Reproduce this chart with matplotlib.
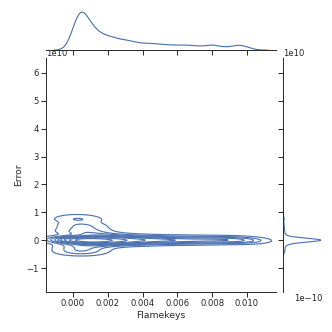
import matplotlib
matplotlib.use("Agg")
import matplotlib.pyplot as plt
import numpy as np
import seaborn as sns

# Flamekeys in milliseconds, Error in units of 1e10
flamekeys_ms = [
    # main cluster
    0.02, 0.04, 0.06, 0.08, 0.10, 0.12, 0.14, 0.16, 0.18, 0.20,
    0.22, 0.24, 0.26, 0.28, 0.30, 0.31, 0.33, 0.35, 0.37, 0.39,
    0.40, 0.42, 0.44, 0.46, 0.47, 0.49, 0.50, 0.52, 0.53, 0.55,
    0.56, 0.57, 0.58, 0.59, 0.61, 0.63, 0.66, 0.68, 0.71, 0.73,
    0.76, 0.78, 0.81, 0.84, 0.87, 0.90, 0.93, 0.96, 0.99, 1.02,
    1.06, 1.10, 1.14, 1.18, 1.22, 1.26, 1.30, 1.34, 1.38, 1.42,
    1.46, 1.49,
    # tail
    1.55, 1.61, 1.67, 1.73, 1.79, 1.85, 1.91, 1.97, 2.03, 2.09, 2.15, 2.21, 2.27, 2.33,
    2.39, 2.45, 2.50,
    2.60, 2.70, 2.80, 2.90, 3.00, 3.10, 3.20, 3.28, 3.36, 3.44, 2.95,
    3.55, 3.68, 3.80, 3.93, 4.05, 4.18, 4.30, 4.43, 4.55, 4.68, 4.80, 4.93,
    5.08, 5.25, 5.42, 5.58, 5.75, 5.92, 6.08, 6.25, 6.42, 6.58, 6.75, 6.92,
    7.10, 7.35, 7.60, 7.85, 7.95, 8.05, 8.15, 8.40, 8.70, 9.00, 9.30, 9.45, 9.55, 9.65,
    9.85, 10.10,
]
error_e10 = [
    0.00, -0.02, 0.30, 0.01, -0.40, 0.00, 0.72, -0.01, -0.25, 0.02,
    0.78, 0.00, -0.50, 0.01, 0.45, -0.02, 1.16, 0.88, -0.30, 0.03,
    0.60, 0.00, -0.45, -0.01, 0.75, 0.02, -0.15, 0.00, 0.35, -0.02,
    -0.35, 0.01, 0.55, 0.00, -0.20, -0.01, 0.50, 0.02, -0.40, 0.00,
    0.25, -0.01, -0.30, 0.01, 0.40, 0.00, -0.20, 0.02, 0.30, -0.01,
    -0.10, 0.00, 0.20, 0.01, -0.15, -0.01, 0.15, 0.00, -0.03, 0.02,
    -0.12, 0.00,
    0.05, -0.02, 0.18, 0.00, -0.15, 0.01, 0.10, -0.01, -0.10, 0.00, 0.15, -0.03, 0.00, 0.02,
    0.08, -0.06, 0.00,
    0.02, -0.10, 0.00, 0.12, -0.02, 0.01, -0.08, 0.03, 0.00, 0.06, -0.04,
    0.01, -0.08, 0.00, 0.10, -0.01, 0.05, -0.10, 0.00, 0.02, -0.05, 0.08, 0.00,
    -0.02, 0.06, -0.03, 0.01, 0.00, -0.04, 0.00, 0.08, -0.05, 0.02, -0.06, 0.00,
    0.05, -0.02, 0.00, 0.06, -0.04, 0.00, 0.02, -0.01, 0.00, 0.03, -0.02, 0.04, 0.00, 0.01,
    -0.03, 0.00,
]

x = np.array(flamekeys_ms) * 1e-3
y = np.array(error_e10) * 1e10

sns.set_theme(style="ticks")
color = sns.color_palette()[0]

g = sns.JointGrid(x=x, y=y, height=6)
sns.kdeplot(x=x, y=y, ax=g.ax_joint, color=color, bw_adjust=0.75, warn_singular=False)
sns.kdeplot(x=x, ax=g.ax_marg_x, color=color, bw_adjust=0.35)
sns.kdeplot(y=y, ax=g.ax_marg_y, color=color, bw_adjust=0.7)

g.ax_joint.set_xlim(-0.00155, 0.01167)
g.ax_joint.set_ylim(-1.86e10, 6.54e10)
g.ax_joint.set_xlabel("Flamekeys")
g.ax_joint.set_ylabel("Error")

fig = g.figure
fig.set_size_inches(6, 6)
g.ax_joint.set_position([0.1386, 0.1205, 0.693, 0.705])
g.ax_marg_x.set_position([0.1386, 0.849, 0.693, 0.12])
g.ax_marg_y.set_position([0.852, 0.1205, 0.12, 0.705])

fig.savefig("out.png", dpi=332 / 6)
